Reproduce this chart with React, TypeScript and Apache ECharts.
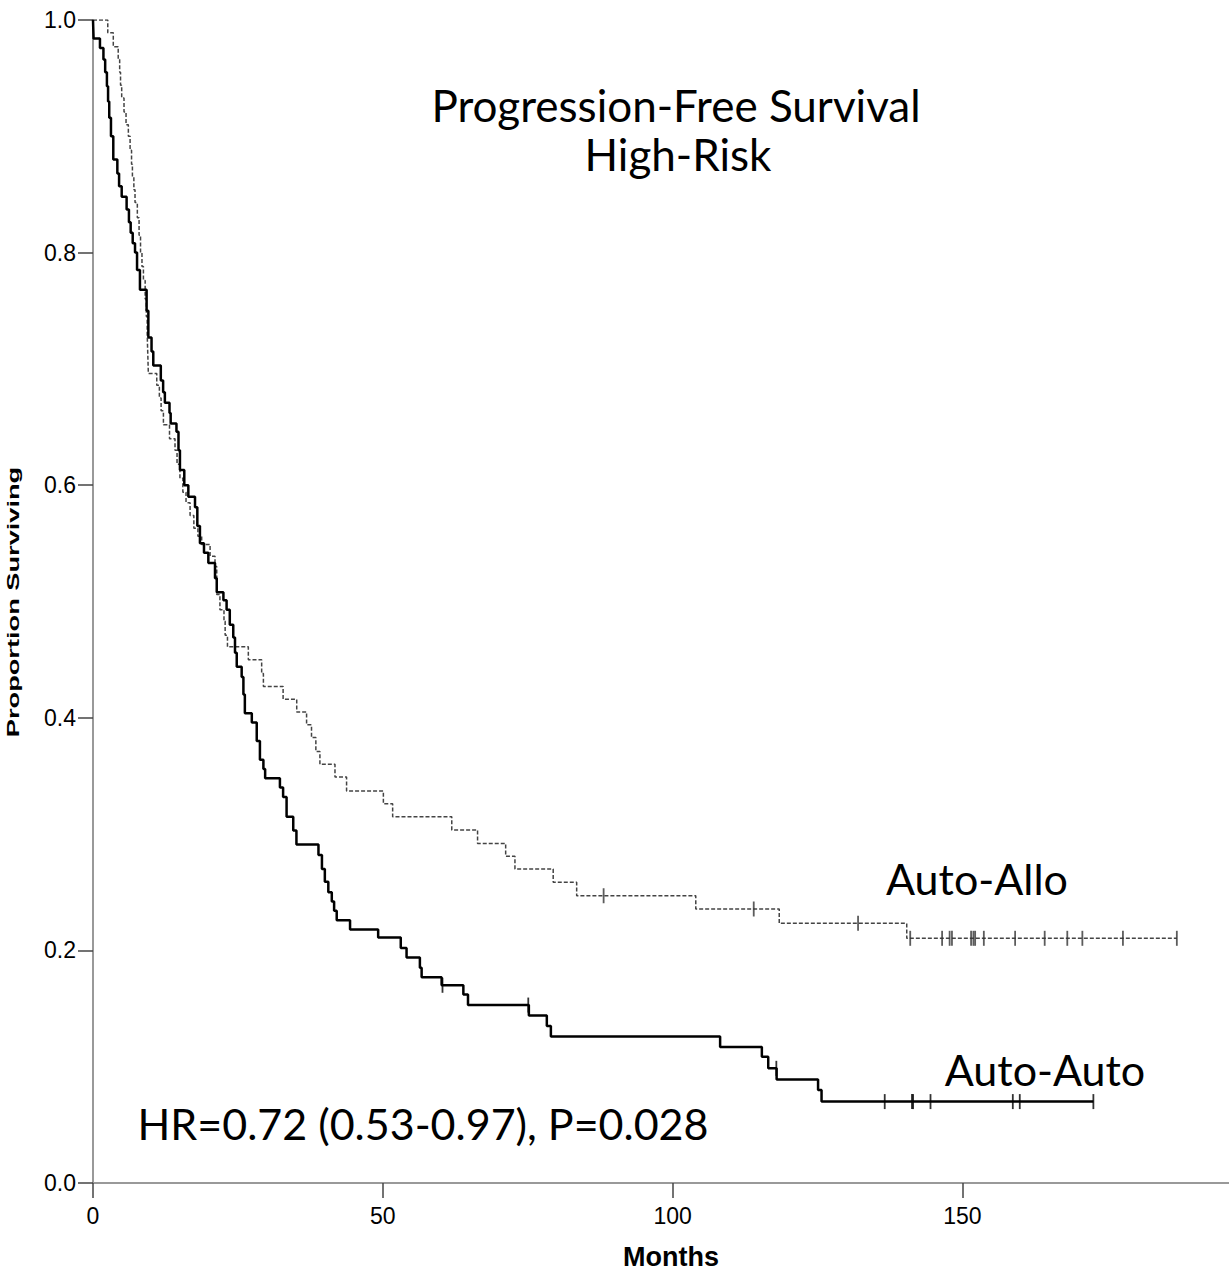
import React, { useEffect, useRef } from "react";
import * as echarts from "echarts";

// ---- data ----
const xTickValues = [0, 50, 100, 150];

// Auto-Auto: [month, survival after event]
const autoAutoSteps: [number, number][] = [
  [0, 1.0], [0.1, 0.984], [1.2, 0.976], [1.8, 0.966], [2.1, 0.955], [2.4, 0.943],
  [2.6, 0.93], [2.8, 0.916], [3.1, 0.9], [3.5, 0.88], [4.2, 0.868], [4.5, 0.857],
  [4.95, 0.848], [5.8, 0.837], [6.2, 0.826], [6.5, 0.817], [6.85, 0.808], [7.25, 0.8],
  [7.6, 0.785], [8.1, 0.768], [9.25, 0.75], [9.55, 0.727], [10.1, 0.715], [10.4, 0.703],
  [11.7, 0.69], [12.1, 0.68], [12.4, 0.671], [13.2, 0.662], [13.4, 0.653], [14.4, 0.646],
  [14.75, 0.63], [15.0, 0.613], [15.75, 0.6], [16.45, 0.59], [17.6, 0.581], [18.0, 0.565],
  [18.45, 0.55], [19.15, 0.542], [19.9, 0.533], [21.05, 0.52], [21.35, 0.508], [22.5, 0.501],
  [23.05, 0.493], [23.6, 0.48], [24.2, 0.469], [24.5, 0.456], [24.8, 0.444], [25.65, 0.435],
  [25.95, 0.42], [26.2, 0.404], [27.4, 0.396], [28.25, 0.38], [28.8, 0.364], [29.4, 0.356],
  [29.7, 0.348], [32.25, 0.34], [32.8, 0.332], [33.4, 0.315], [34.55, 0.303], [35.1, 0.291],
  [38.9, 0.282], [39.5, 0.27], [40.0, 0.259], [40.6, 0.25], [41.2, 0.242], [41.6, 0.234],
  [42.05, 0.226], [44.35, 0.218], [49.2, 0.211], [53.1, 0.202], [54.1, 0.194], [56.4, 0.185],
  [56.7, 0.177], [60.15, 0.17], [63.9, 0.162], [64.7, 0.153], [75.2, 0.144], [78.3, 0.135],
  [79.0, 0.126], [108.2, 0.117], [115.4, 0.1086], [116.5, 0.0986], [117.95, 0.089],
  [125.1, 0.08], [125.7, 0.07],
];
const autoAutoCensored: number[] = [
  60.3, 75.1, 117.9, 136.6, 141.3, 141.5, 144.5, 158.7, 159.9, 172.6,
];

// Auto-Allo: [month, survival after event]
const autoAlloSteps: [number, number][] = [
  [0, 1.0], [2.55, 0.989], [3.5, 0.977], [4.35, 0.966], [4.6, 0.955], [4.75, 0.944],
  [4.95, 0.933], [5.35, 0.921], [5.7, 0.91], [6.1, 0.9], [6.4, 0.888], [6.65, 0.876],
  [6.8, 0.865], [7.05, 0.854], [7.25, 0.843], [7.65, 0.83], [7.95, 0.815], [8.2, 0.8],
  [8.45, 0.788], [8.7, 0.776], [9.0, 0.76], [9.2, 0.745], [9.35, 0.73], [9.45, 0.713],
  [9.55, 0.696], [11.0, 0.686], [11.45, 0.675], [11.75, 0.664], [12.15, 0.652], [13.2, 0.64],
  [14.15, 0.63], [14.5, 0.618], [15.0, 0.606], [15.5, 0.594], [16.05, 0.585], [16.75, 0.574],
  [17.4, 0.563], [18.1, 0.556], [18.75, 0.549], [20.2, 0.539], [21.05, 0.53], [21.35, 0.506],
  [21.9, 0.493], [22.6, 0.483], [22.8, 0.471], [23.2, 0.461], [26.8, 0.45], [29.1, 0.438],
  [29.4, 0.427], [32.8, 0.416], [35.15, 0.405], [36.85, 0.394], [37.7, 0.383], [38.45, 0.371],
  [39.15, 0.36], [41.75, 0.349], [43.75, 0.337], [50.1, 0.326], [51.7, 0.315], [61.9, 0.3035],
  [66.35, 0.292], [71.2, 0.281], [72.8, 0.27], [79.4, 0.2585], [83.45, 0.247], [104.0, 0.2356],
  [118.4, 0.2233], [140.4, 0.2104],
];
const autoAlloCensored: number[] = [
  88.1, 114.0, 132.0, 141.0, 146.5, 147.8, 148.2, 151.5, 151.9, 152.2, 153.7, 159.1, 164.2,
  168.1, 170.7, 177.7, 187.0,
];

const titleLines = ["Progression-Free Survival", "High-Risk"];
const groupLabels = ["Auto-Allo", "Auto-Auto"];
const statsText = "HR=0.72 (0.53-0.97), P=0.028";
const xAxisTitle = "Months";
const yAxisTitle = "Proportion Surviving";

function survivalAt(steps: [number, number][], t: number): number {
  let s = steps[0][1];
  for (const [ti, si] of steps) {
    if (ti <= t) s = si;
    else break;
  }
  return s;
}

function curveData(steps: [number, number][], censored: number[]) {
  const last = censored[censored.length - 1];
  return [...steps, [last, survivalAt(steps, last)]];
}

function censorData(steps: [number, number][], censored: number[]) {
  return censored.map((t) => [t, survivalAt(steps, t)]);
}

export default function App() {
  const ref = useRef<HTMLDivElement>(null);

  useEffect(() => {
    document.body.style.margin = "0";
    if (!ref.current) return;
    const chart = echarts.init(ref.current, null, { renderer: "svg" });
    const annotFont = "Lato, 'Open Sans', sans-serif";
    const axisFont = "'Liberation Sans', Arial, sans-serif";

    const annot = (text: string, x: number, y: number, size: number) => ({
      type: "text",
      x,
      y,
      style: {
        text,
        fontSize: size,
        fontFamily: annotFont,
        fill: "#000",
        align: "center",
        verticalAlign: "middle",
      },
    });

    chart.setOption({
      animation: false,
      backgroundColor: "#ffffff",
      grid: { left: 93, right: 0, top: 20, bottom: 92, containLabel: false },
      xAxis: {
        type: "value",
        min: 0,
        max: 196,
        interval: 50,
        splitLine: { show: false },
        axisLine: { show: true, lineStyle: { color: "#999999", width: 2 } },
        axisTick: {
          show: true,
          length: 15,
          customValues: xTickValues,
          lineStyle: { color: "#444444", width: 1.5 },
        },
        axisLabel: {
          customValues: xTickValues,
          margin: 21,
          fontSize: 23,
          color: "#000000",
          fontFamily: axisFont,
          formatter: (v: number) => (v % 50 === 0 ? String(v) : ""),
        },
      },
      yAxis: {
        type: "value",
        min: 0,
        max: 1,
        interval: 0.2,
        splitLine: { show: false },
        axisLine: { show: true, lineStyle: { color: "#999999", width: 2 } },
        axisTick: { show: true, length: 15, lineStyle: { color: "#444444", width: 1.5 } },
        axisLabel: {
          margin: 17,
          fontSize: 23,
          color: "#000000",
          fontFamily: axisFont,
          formatter: (v: number) => v.toFixed(1),
        },
      },
      series: [
        {
          type: "line",
          name: groupLabels[0],
          data: curveData(autoAlloSteps, autoAlloCensored),
          step: "end",
          symbol: "none",
          showSymbol: false,
          lineStyle: { color: "#444444", width: 1.5, type: [4, 2] },
          z: 2,
        },
        {
          type: "scatter",
          name: groupLabels[0] + " censored",
          data: censorData(autoAlloSteps, autoAlloCensored),
          symbol: "rect",
          symbolSize: [1.8, 15],
          itemStyle: { color: "#333333" },
          z: 3,
        },
        {
          type: "line",
          name: groupLabels[1],
          data: curveData(autoAutoSteps, autoAutoCensored),
          step: "end",
          symbol: "none",
          showSymbol: false,
          lineStyle: { color: "#000000", width: 2.5 },
          z: 4,
        },
        {
          type: "scatter",
          name: groupLabels[1] + " censored",
          data: censorData(autoAutoSteps, autoAutoCensored),
          symbol: "rect",
          symbolSize: [1.8, 15],
          itemStyle: { color: "#000000" },
          z: 5,
        },
      ],
      graphic: [
        annot(titleLines[0], 676, 105, 44),
        annot(titleLines[1], 678, 154, 44),
        annot(groupLabels[0], 977, 878, 43),
        annot(groupLabels[1], 1045, 1069, 43),
        annot(statsText, 423, 1123, 43),
        {
          type: "text",
          x: 671,
          y: 1257,
          style: {
            text: xAxisTitle,
            fontSize: 27,
            fontWeight: "bold",
            fontFamily: axisFont,
            fill: "#000",
            align: "center",
            verticalAlign: "middle",
          },
        },
        {
          type: "text",
          x: 13,
          y: 602,
          rotation: Math.PI / 2,
          scaleX: 1.6,
          scaleY: 1,
          style: {
            text: yAxisTitle,
            fontSize: 17,
            fontWeight: "bold",
            fontFamily: axisFont,
            fill: "#000",
            align: "center",
            verticalAlign: "middle",
          },
        },
      ],
    });

    return () => {
      chart.dispose();
    };
  }, []);

  return <div ref={ref} style={{ width: 1229, height: 1275 }} />;
}
